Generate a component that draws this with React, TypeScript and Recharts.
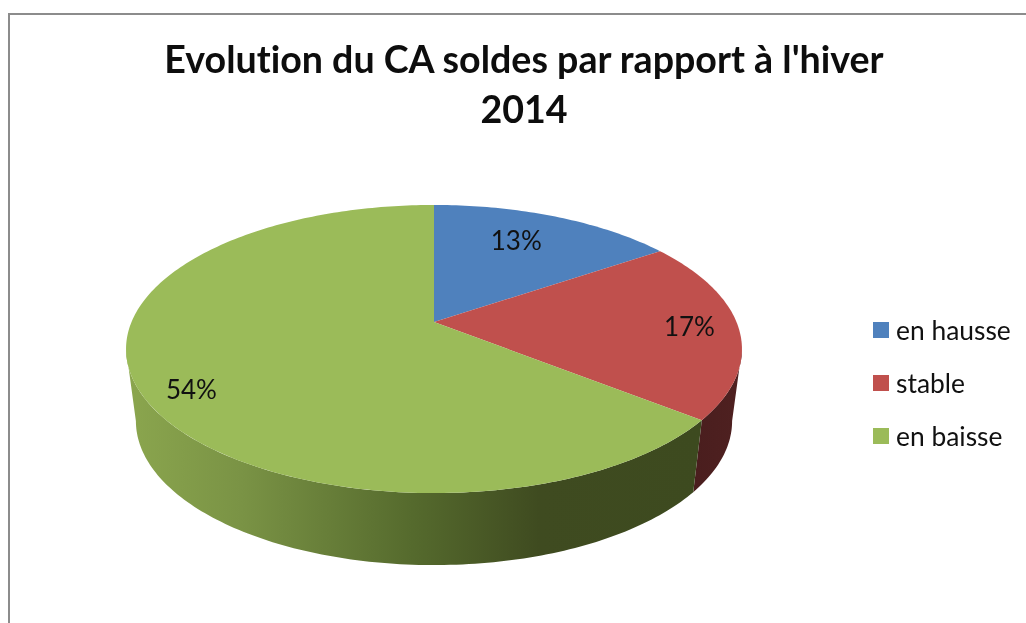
import React from 'react';
import { PieChart, Pie, Cell, Legend } from 'recharts';

const categories = ['en hausse', 'stable', 'en baisse'];
const values = [13, 17, 54];
const colours = ['#4f81bd', '#c0504d', '#9bbb59'];
const wallFills: Record<string, string> = {
  '#c0504d': 'url(#wallRed)',
  '#9bbb59': 'url(#wallGreen)',
};
const rows = categories.map((name, i) => ({ name, value: values[i] }));

const TITLE = ["Evolution du CA soldes par rapport à l'hiver", '2014'];
const FONT = 'Lato, "Open Sans", sans-serif';

// Perspective of the tilted disc
const P = 0.1875;
const SQUASH = 0.4595;
const WALL_DROP = 72;
const WALL_X = 0.968;
const LEFT_TANGENT = 259.2;
const RIGHT_TANGENT = 100.8;
const LABEL_FRACTION = [0.75, 0.84, 0.83];
const LABEL_NUDGE = [[-12, 0], [0, 0], [0, 13]];

const rad = (d: number) => (d * Math.PI) / 180;
function project(theta: number, f: number) {
  const s = Math.sin(rad(theta));
  const c = Math.cos(rad(theta));
  const w = 1 + P * f * c;
  return { x: (f * s) / w, y: (-f * SQUASH * c) / w };
}
function arc(a: number, b: number) {
  const out: number[] = [];
  const n = Math.max(2, Math.ceil(Math.abs(b - a)));
  for (let i = 0; i <= n; i++) out.push(a + ((b - a) * i) / n);
  return out;
}

function Slice(props: any) {
  const { cx, cy, outerRadius: R, startAngle, endAngle, fill } = props;
  const t0 = 90 - startAngle;
  const t1 = 90 - endAngle;
  const rim = arc(t0, t1).map((t) => {
    const p = project(t, 1);
    return `${cx + R * p.x},${cy + R * p.y}`;
  });
  const top = `M${cx},${cy}L${rim.join('L')}Z`;
  const w0 = Math.max(t0, RIGHT_TANGENT);
  const w1 = Math.min(t1, LEFT_TANGENT);
  let wall = '';
  if (w1 > w0 && wallFills[fill]) {
    const thetas = arc(w0, w1);
    const upper = thetas.map((t) => {
      const p = project(t, 1);
      return `${cx + R * p.x},${cy + R * p.y}`;
    });
    const lower = thetas
      .slice()
      .reverse()
      .map((t) => {
        const p = project(t, 1);
        return `${cx + R * WALL_X * p.x},${cy + R * p.y + WALL_DROP}`;
      });
    wall = `M${upper.join('L')}L${lower.join('L')}Z`;
  }
  return (
    <g>
      {wall && <path d={wall} fill={wallFills[fill]} stroke="none" />}
      <path d={top} fill={fill} stroke="none" />
    </g>
  );
}

function SliceLabel(props: any) {
  const { cx, cy, outerRadius: R, midAngle, index, value } = props;
  const p = project(90 - midAngle, LABEL_FRACTION[index]);
  return (
    <text
      x={cx + R * p.x + LABEL_NUDGE[index][0]}
      y={cy + R * p.y + LABEL_NUDGE[index][1]}
      textAnchor="middle"
      dominantBaseline="central"
      fontFamily={FONT}
      fontSize={26}
      fill="#111"
    >
      {value}%
    </text>
  );
}

function LegendBox() {
  return (
    <div style={{ fontFamily: FONT, fontSize: 26.4, color: '#111' }}>
      {categories.map((c, i) => (
        <div
          key={c}
          style={{ display: 'flex', alignItems: 'center', height: 53 }}
        >
          <span
            style={{
              width: 16,
              height: 16,
              background: colours[i],
              marginRight: 7,
              flex: 'none',
            }}
          />
          <span>{c}</span>
        </div>
      ))}
    </div>
  );
}

export default function App() {
  return (
    <div
      style={{
        position: 'absolute',
        left: 0,
        top: 0,
        width: 1026,
        height: 623,
        overflow: 'hidden',
        background: '#fff',
        filter: 'blur(0.5px)',
      }}
    >
      <div
        style={{
          position: 'absolute',
          left: 8,
          top: 13,
          width: 1100,
          height: 700,
          border: '2px solid #8c8c8c',
          boxSizing: 'border-box',
        }}
      />
      <div
        style={{
          position: 'absolute',
          left: 0,
          top: 34,
          width: 1048,
          textAlign: 'center',
          fontFamily: FONT,
          fontWeight: 700,
          fontSize: 37.6,
          lineHeight: '50px',
          color: '#0d0d0d',
          fontVariantLigatures: 'none',
        }}
      >
        {TITLE.map((t) => (
          <div key={t}>{t}</div>
        ))}
      </div>
      <PieChart
        width={1026}
        height={623}
        margin={{ top: 0, right: 0, bottom: 0, left: 0 }}
        style={{ position: 'absolute', left: 0, top: 0 }}
      >
        <defs>
          <linearGradient id="wallGreen" gradientUnits="userSpaceOnUse" x1="126" y1="0" x2="700" y2="0">
            <stop offset="0" stopColor="#8ba64e" />
            <stop offset="0.2" stopColor="#7a9345" />
            <stop offset="0.5" stopColor="#556a2d" />
            <stop offset="0.72" stopColor="#3f4b20" />
            <stop offset="1" stopColor="#3d4a1f" />
          </linearGradient>
          <linearGradient id="wallRed" gradientUnits="userSpaceOnUse" x1="695" y1="0" x2="735" y2="0">
            <stop offset="0" stopColor="#4a1e1e" />
            <stop offset="1" stopColor="#4e2020" />
          </linearGradient>
        </defs>
        <Pie
          data={rows}
          dataKey="value"
          nameKey="name"
          cx={434}
          cy={322}
          outerRadius={302.5}
          startAngle={90}
          endAngle={-270}
          stroke="none"
          isAnimationActive={false}
          shape={Slice}
          inactiveShape={Slice}
          activeShape={Slice}
          labelLine={false}
          label={SliceLabel}
        >
          {rows.map((r, i) => (
            <Cell key={r.name} fill={colours[i]} />
          ))}
        </Pie>
        <Legend
          layout="vertical"
          content={<LegendBox />}
          wrapperStyle={{ position: 'absolute', left: 873, top: 303, width: 153 }}
        />
      </PieChart>
    </div>
  );
}
